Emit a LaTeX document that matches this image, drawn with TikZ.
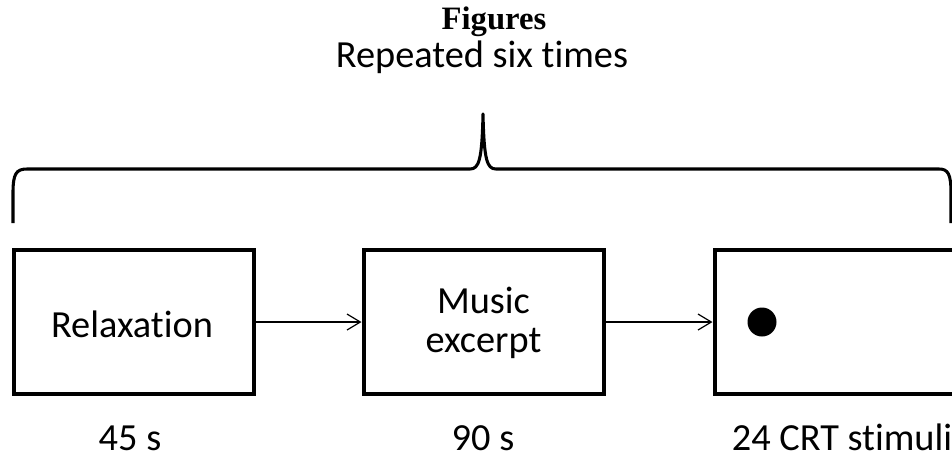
\documentclass[tikz,border=0pt]{standalone}
\usepackage{fontspec}
\setmainfont[Ligatures=NoCommon]{Carlito}
\newfontfamily\titlefont{Liberation Serif}
\usetikzlibrary{arrows.meta}
\begin{document}
\begin{tikzpicture}[x=0.75pt,y=-0.75pt,
  stagebox/.style={draw, line width=3pt, minimum width=180pt, minimum height=108pt, inner sep=0pt},
  txt/.style={font=\fontsize{28.75}{29}\selectfont, inner sep=0pt, align=center},
  lbl/.style={font=\fontsize{28.75}{29}\selectfont, inner sep=0pt, anchor=base},
  flow/.style={line width=1pt, -{Straight Barb[length=10pt,width=12pt,line width=0.9pt]}},
  bracestyle/.style={line width=2.3pt, line cap=butt, line join=round}]
\useasboundingbox (0,0) rectangle (952,458);
\clip (0,0) rectangle (952,458);
\fill[white] (0,0) rectangle (952,458);
% title texts
\node[font=\titlefont\bfseries\fontsize{24.5}{26}\selectfont, inner sep=0pt, anchor=base] (fig) at (494,29) {Figures};
\node[lbl] (rep) at (482,67) {Repeated six times};
% brace
\draw[bracestyle] (13,223) -- (13,193) .. controls (13,174) and (16,169) .. (27,169)
  -- (470,169) .. controls (479,169) and (482,160) .. (483,114)
  .. controls (484,160) and (487,169) .. (496,169)
  -- (939,169) .. controls (948,169) and (951,174) .. (951,193) -- (951,223);
% boxes
\node[stagebox] (relax) at (134,322) {};
\node[txt] (relaxt) at (132,324) {Relaxation};
\node[stagebox] (music) at (483.5,322) {};
\node[txt] (musict) at (483.5,323) {Music\\excerpt};
\node[stagebox] (crt) at (834.5,322) {};
\node[circle, fill=black, minimum size=21.75pt, inner sep=0pt] (dot) at (762,322) {};
% arrows
\draw[flow] (relax.east) -- (music.west);
\draw[flow] (music.east) -- (crt.west);
% durations
\node[lbl] (d1) at (130,450) {45 s};
\node[lbl] (d2) at (483,450) {90 s};
\node[lbl] (d3) at (842,450) {24 CRT stimuli};
\end{tikzpicture}
\end{document}
